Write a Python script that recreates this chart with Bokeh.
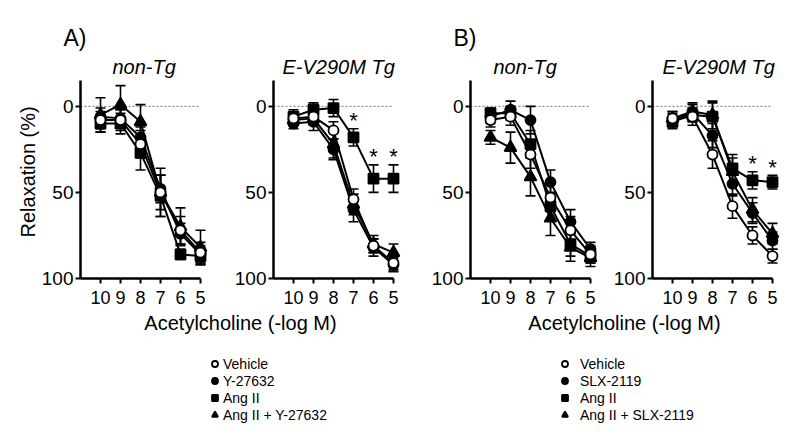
from bokeh.plotting import figure
from bokeh.layouts import row, column
from bokeh.models import Range1d, FixedTicker, Title, Legend, LegendItem, ColumnDataSource
from bokeh.core.properties import value
from bokeh.embed import file_html
from bokeh.resources import INLINE

FONT = "Liberation Sans"

# ---------------- data ----------------
conc = [10, 9, 8, 7, 6, 5]
x_ticks = [10, 9, 8, 7, 6, 5]
y_ticks = [0, 50, 100]

# Panel A, non-Tg
a_non_vehicle = [8, 8, 22, 50, 72, 85]
a_non_vehicle_sem = [5, 6, 8, 10, 8, 6]
a_non_drug = [6, 7, 18, 48, 74, 86]
a_non_drug_sem = [5, 5, 6, 8, 6, 5]
a_non_ang = [10, 10, 27, 52, 86, 87]
a_non_ang_sem = [5, 6, 10, 12, 3, 5]
a_non_angdrug = [5, -1, 9, 50, 70, 82]
a_non_angdrug_sem = [10, 11, 10, 14, 11, 10]

# Panel A, E-V290M Tg
a_tg_vehicle = [7, 6, 14, 54, 81, 91]
a_tg_vehicle_sem = [3, 4, 5, 6, 4, 4]
a_tg_drug = [10, 9, 25, 60, 82, 92]
a_tg_drug_sem = [3, 5, 6, 7, 5, 4]
a_tg_ang = [6, 2, 1, 18, 42, 42]
a_tg_ang_sem = [4, 4, 5, 5, 8, 8]
a_tg_angdrug = [8, 7, 22, 57, 80, 85]
a_tg_angdrug_sem = [3, 4, 8, 6, 5, 5]
a_tg_star_x = [7, 6, 5]

# Panel B, non-Tg
b_non_vehicle = [8, 6, 28, 53, 72, 86]
b_non_vehicle_sem = [4, 5, 8, 8, 8, 5]
b_non_drug = [6, 2, 8, 44, 67, 83]
b_non_drug_sem = [4, 5, 8, 7, 7, 4]
b_non_ang = [4, 4, 22, 58, 80, 87]
b_non_ang_sem = [3, 4, 8, 8, 7, 4]
b_non_angdrug = [18, 24, 41, 65, 82, 88]
b_non_angdrug_sem = [4, 9, 11, 10, 8, 5]

# Panel B, E-V290M Tg
b_tg_vehicle = [7, 6, 28, 58, 75, 87]
b_tg_vehicle_sem = [4, 5, 8, 7, 5, 4]
b_tg_drug = [8, 4, 17, 45, 62, 78]
b_tg_drug_sem = [4, 5, 7, 7, 6, 5]
b_tg_ang = [9, 5, 6, 36, 43, 44]
b_tg_ang_sem = [4, 4, 8, 8, 5, 4]
b_tg_angdrug = [7, 3, 5, 38, 60, 74]
b_tg_angdrug_sem = [4, 5, 8, 8, 7, 6]
b_tg_star_x = [6, 5]

legend_a = ["Vehicle", "Y-27632", "Ang II", "Ang II + Y-27632"]
legend_b = ["Vehicle", "SLX-2119", "Ang II", "Ang II + SLX-2119"]
x_label = "Acetylcholine (-log M)"
y_label = "Relaxation (%)"
panel_titles = ["non-Tg", "E-V290M Tg", "non-Tg", "E-V290M Tg"]
panel_letters = ["A)", "B)"]

# marker styles per series: (marker, fill)
styles = [("circle", "white"), ("circle", "black"), ("square", "black"), ("triangle", "black")]
sizes = [10, 10, 10, 12]


def panel_title(text, off):
    return Title(text=text, align="left", offset=off, standoff=6, text_font=FONT,
                 text_font_size="20px", text_font_style="italic", text_color="black")


def letter_title(text):
    return Title(text=text, align="left", offset=-17, standoff=0, text_font=FONT,
                 text_font_size="23px", text_font_style="normal", text_color="black")


def make_panel(series, stars_x, star_src_series, min_left, min_right, title, title_off,
               letter=None, ylab=False):
    fig_title = letter_title(letter) if letter else panel_title(title, title_off)
    p = figure(frame_width=128, frame_height=198, output_backend="svg", toolbar_location=None,
               x_range=Range1d(11, 4.6), y_range=Range1d(100, -15),
               min_border_left=min_left, min_border_right=min_right,
               min_border_top=80, min_border_bottom=30, title=fig_title)
    if letter:
        p.add_layout(panel_title(title, title_off), "above")
    p.grid.visible = False
    p.outline_line_color = None
    p.background_fill_color = "white"
    p.border_fill_color = "white"

    # zero reference line
    p.segment(x0=[11], y0=[0], x1=[5], y1=[0], line_color="#8a8a8a", line_width=1.2, line_dash="2 2")

    for (mean, sem) in series:
        lo = [m - s for m, s in zip(mean, sem)]
        hi = [m + s for m, s in zip(mean, sem)]
        src = ColumnDataSource(dict(x=conc, y=mean, lo=lo, hi=hi))
        p.segment(x0="x", y0="lo", x1="x", y1="hi", source=src, line_color="black", line_width=1.6)
        p.scatter(x="x", y="lo", source=src, marker="dash", size=10, line_color="black", line_width=1.6)
        p.scatter(x="x", y="hi", source=src, marker="dash", size=10, line_color="black", line_width=1.6)
        p.line(x="x", y="y", source=src, line_color="black", line_width=2)
    for i in [1, 2, 3, 0]:
        mean, sem = series[i]
        mk, fill = styles[i]
        p.scatter(x=conc, y=mean, marker=mk, size=sizes[i], fill_color=fill,
                  line_color="black", line_width=1.8)

    if stars_x:
        mean, sem = star_src_series
        sy = [m - s for xv, m, s in zip(conc, mean, sem) if xv in stars_x]
        sx = [xv for xv in conc if xv in stars_x]
        p.text(x=sx, y=sy, text=["*"] * len(sx), text_align="center", text_baseline="alphabetic",
               y_offset=-8, text_font=value(FONT), text_font_size="22px", text_color="black")

    for ax in (p.xaxis[0], p.yaxis[0]):
        ax.axis_line_width = 2.5
        ax.axis_line_color = "black"
        ax.major_tick_line_width = 2
        ax.major_tick_in = 0
        ax.major_tick_out = 5
        ax.minor_tick_line_color = None
        ax.major_label_text_font = FONT
        ax.major_label_text_color = "black"
    p.xaxis.ticker = FixedTicker(ticks=x_ticks)
    p.xaxis.bounds = (5, 11)
    p.xaxis.major_label_text_font_size = "18px"
    p.xaxis.major_label_standoff = 7
    p.yaxis.ticker = FixedTicker(ticks=y_ticks)
    p.yaxis.major_label_text_font_size = "19px"
    p.yaxis.major_label_standoff = 2
    if ylab:
        p.add_layout(Title(text=y_label, align="left", offset=41, standoff=0, text_font=FONT,
                           text_font_size="20px", text_font_style="normal", text_color="black"),
                     "left")
    return p


f1 = make_panel([(a_non_vehicle, a_non_vehicle_sem), (a_non_drug, a_non_drug_sem),
                 (a_non_ang, a_non_ang_sem), (a_non_angdrug, a_non_angdrug_sem)],
                None, None, 80, 15, panel_titles[0], 32, letter=panel_letters[0], ylab=True)
f2 = make_panel([(a_tg_vehicle, a_tg_vehicle_sem), (a_tg_drug, a_tg_drug_sem),
                 (a_tg_ang, a_tg_ang_sem), (a_tg_angdrug, a_tg_angdrug_sem)],
                a_tg_star_x, (a_tg_ang, a_tg_ang_sem), 50, 17, panel_titles[1], 9)
f3 = make_panel([(b_non_vehicle, b_non_vehicle_sem), (b_non_drug, b_non_drug_sem),
                 (b_non_ang, b_non_ang_sem), (b_non_angdrug, b_non_angdrug_sem)],
                None, None, 52, 10, panel_titles[2], 23, letter=panel_letters[1])
f4 = make_panel([(b_tg_vehicle, b_tg_vehicle_sem), (b_tg_drug, b_tg_drug_sem),
                 (b_tg_ang, b_tg_ang_sem), (b_tg_angdrug, b_tg_angdrug_sem)],
                b_tg_star_x, (b_tg_ang, b_tg_ang_sem), 44, 12, panel_titles[3], 10)

# ---------------- bottom strip: axis titles + legends ----------------
fb = figure(width=792, height=120, output_backend="svg", toolbar_location=None,
            x_range=Range1d(0, 792), y_range=Range1d(120, 0),
            x_axis_location=None, y_axis_location=None,
            min_border=0)
fb.grid.visible = False
fb.outline_line_color = None
fb.text(x=[240, 624], y=[14, 14], text=[x_label, x_label], text_align="center",
        text_baseline="middle", text_font=value(FONT), text_font_size="20px", text_color="black")


def make_legend(labels, loc, standoff):
    items = []
    for i, lab in enumerate(labels):
        mk, fill = styles[i]
        r = fb.scatter(x=[-100], y=[-100], marker=mk, size=sizes[i], fill_color=fill,
                       line_color="black", line_width=1.8)
        items.append(LegendItem(label=lab, renderers=[r]))
    lg = Legend(items=items, location=loc, orientation="vertical",
                label_text_font=FONT, label_text_font_size="14px", label_text_color="black",
                glyph_width=15, glyph_height=17, label_height=17, spacing=0, padding=0, margin=0,
                label_standoff=standoff, border_line_color=None, background_fill_alpha=0)
    fb.add_layout(lg)


make_legend(legend_a, (207, 5), 1)
make_legend(legend_b, (557, 5), 8)

layout = column(row(f1, f2, f3, f4), fb)
open("out.html", "w").write(file_html(layout, INLINE))
